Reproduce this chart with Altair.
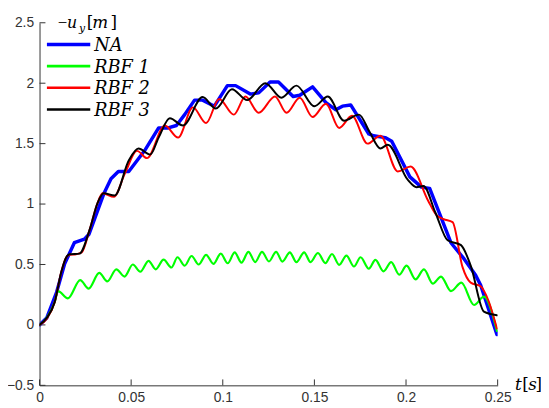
import altair as alt
import pandas as pd

# ---------------- data ----------------
series = ["NA", "RBF 1", "RBF 2", "RBF 3"]
colors = ["#0000ff", "#00ff00", "#ff0000", "#000000"]

na_t = [0, 0.0039, 0.0093, 0.0137, 0.019, 0.0245, 0.027, 0.0352, 0.039, 0.043, 0.0487,
        0.0577, 0.065, 0.0702, 0.0747, 0.0792, 0.0846, 0.089, 0.0954, 0.1025, 0.107,
        0.115, 0.1196, 0.1258, 0.1304, 0.1384, 0.142, 0.149, 0.1563, 0.1617, 0.1653,
        0.1698, 0.1797, 0.1823, 0.1886, 0.1922, 0.2021, 0.2084, 0.2129, 0.2245, 0.2317,
        0.238, 0.2407, 0.2496]
na_y = [0.0, 0.057, 0.27, 0.505, 0.68, 0.71, 0.75, 1.09, 1.21, 1.27, 1.27,
        1.45, 1.63, 1.63, 1.65, 1.74, 1.86, 1.86, 1.81, 1.98, 1.98,
        1.91, 1.92, 2.01, 2.01, 1.89, 1.90, 1.97, 1.84, 1.78, 1.81,
        1.82, 1.58, 1.565, 1.55, 1.52, 1.225, 1.14, 1.13, 0.68, 0.546,
        0.41, 0.33, -0.08]

rbf1_t = [0, 0.0039, 0.0083, 0.0101, 0.0155, 0.0222, 0.0268, 0.0326, 0.037, 0.0419,
          0.0464, 0.0509, 0.055, 0.0595, 0.0634, 0.0677, 0.072, 0.0753, 0.0792, 0.0830,
          0.0868, 0.0909, 0.0949, 0.0989, 0.1027, 0.1065, 0.1102, 0.1140, 0.1177, 0.1214,
          0.1252, 0.1291, 0.1325, 0.1366, 0.1402, 0.1444, 0.1479, 0.1519, 0.156, 0.1596,
          0.1635, 0.1675, 0.1716, 0.1752, 0.1797, 0.1833, 0.1877, 0.1919, 0.1963, 0.2003,
          0.2052, 0.2098, 0.2146, 0.2191, 0.2245, 0.2302, 0.2371, 0.2425, 0.2496]
rbf1_y = [0, 0.057, 0.19, 0.28, 0.22, 0.37, 0.30, 0.43, 0.36, 0.46,
          0.40, 0.50, 0.44, 0.53, 0.46, 0.54, 0.475, 0.56, 0.49, 0.57,
          0.50, 0.58, 0.505, 0.59, 0.51, 0.60, 0.515, 0.605, 0.52, 0.605,
          0.525, 0.605, 0.524, 0.60, 0.519, 0.60, 0.519, 0.595, 0.511, 0.587,
          0.497, 0.573, 0.483, 0.56, 0.465, 0.538, 0.443, 0.519, 0.416, 0.49,
          0.377, 0.459, 0.342, 0.40, 0.28, 0.35, 0.165, 0.234, -0.05]

rbf2_t = [0, 0.0039, 0.0083, 0.0119, 0.0146, 0.0164, 0.0200, 0.0230, 0.0272, 0.0317,
          0.0344, 0.0406, 0.0465, 0.0532, 0.0586, 0.0684, 0.0756, 0.0837, 0.0909, 0.098,
          0.106, 0.1124, 0.1196, 0.1285, 0.1348, 0.142, 0.149, 0.1563, 0.1635, 0.1705,
          0.1790, 0.186, 0.1955, 0.2025, 0.212, 0.2165, 0.2205, 0.2254, 0.2308, 0.2353,
          0.2407, 0.245, 0.2496]
rbf2_y = [0, 0.05, 0.19, 0.44, 0.56, 0.58, 0.585, 0.60, 0.78, 1.01,
          1.09, 1.06, 1.25, 1.44, 1.38, 1.65, 1.55, 1.80, 1.67, 1.87,
          1.74, 1.89, 1.755, 1.89, 1.755, 1.88, 1.72, 1.83, 1.63, 1.73,
          1.50, 1.565, 1.27, 1.31, 1.03, 0.91, 0.875, 0.85, 0.48, 0.35,
          0.32, 0.20, -0.03]

rbf3_t = [0, 0.0039, 0.0083, 0.0119, 0.0146, 0.0164, 0.0218, 0.0272, 0.0317, 0.0350,
          0.0410, 0.0487, 0.054, 0.0604, 0.065, 0.0711, 0.0783, 0.089, 0.0962, 0.1050,
          0.1133, 0.1232, 0.132, 0.1402, 0.15, 0.1573, 0.1662, 0.1743, 0.180, 0.186,
          0.1900, 0.201, 0.2057, 0.2095, 0.216, 0.2227, 0.2300, 0.2353, 0.2425, 0.2496]
rbf3_y = [0, 0.057, 0.19, 0.44, 0.56, 0.585, 0.59, 0.78, 1.01, 1.09,
          1.07, 1.36, 1.46, 1.41, 1.55, 1.71, 1.65, 1.885, 1.79, 1.95,
          1.86, 2.00, 1.88, 1.98, 1.81, 1.89, 1.69, 1.74, 1.60, 1.46,
          1.49, 1.20, 1.14, 1.15, 0.93, 0.70, 0.66, 0.49, 0.11, 0.08]

tick_x = [0, 0.05, 0.1, 0.15, 0.2, 0.25]
tick_y = [-0.5, 0, 0.5, 1, 1.5, 2, 2.5]

# ---------------- layout / style ----------------
W, H = 465, 368
AXC = "#333333"
SERIF = "DejaVu Serif"

xs = alt.Scale(domain=[0, 0.25], nice=False, zero=False)
ys = alt.Scale(domain=[-0.5, 2.5], nice=False, zero=False)

X_AX = alt.Axis(values=tick_x, format="~g", title=None, grid=False, ticks=False,
                tickSize=0, labelPadding=5, labelFont="Liberation Sans",
                labelFontSize=14, labelColor=AXC, domainColor=AXC,
                labelFlush=False, labelOverlap=False)
Y_AX = alt.Axis(values=tick_y, format="~g", title=None, grid=False, ticks=False,
                tickSize=0, labelPadding=6, labelFont="Liberation Sans",
                labelFontSize=14, labelColor=AXC, domainColor=AXC,
                labelFlush=False, labelOverlap=False)


def line(t, y, color, width, interp):
    df = pd.DataFrame({"t": t, "y": y})
    return alt.Chart(df).mark_line(color=color, strokeWidth=width,
                                   interpolate=interp, clip=True,
                                   strokeJoin="round", strokeCap="round").encode(
        x=alt.X("t:Q", scale=xs, axis=X_AX),
        y=alt.Y("y:Q", scale=ys, axis=Y_AX))


layers = []
# inward ticks
layers.append(alt.Chart(pd.DataFrame({"t": tick_x})).mark_rule(color=AXC, strokeWidth=1).encode(
    x=alt.X("t:Q", scale=xs, axis=X_AX), y=alt.value(H), y2=alt.value(H - 6)))
layers.append(alt.Chart(pd.DataFrame({"y": tick_y})).mark_rule(color=AXC, strokeWidth=1).encode(
    y=alt.Y("y:Q", scale=ys, axis=Y_AX), x=alt.value(0), x2=alt.value(6)))

layers.append(line(na_t, na_y, colors[0], 3.5, "linear"))
layers.append(line(rbf1_t, rbf1_y, colors[1], 2.2, "monotone"))
layers.append(line(rbf2_t, rbf2_y, colors[2], 2.0, "monotone"))
layers.append(line(rbf3_t, rbf3_y, colors[3], 2.0, "monotone"))

# legend
leg_w = [3.5, 2.6, 2.4, 2.4]
leg_y = [22, 44, 66, 88]
for name, col, lw, ly in zip(series, colors, leg_w, leg_y):
    layers.append(alt.Chart(pd.DataFrame({"a": [0]})).mark_rule(color=col, strokeWidth=lw).encode(
        x=alt.value(7.5), x2=alt.value(51.5), y=alt.value(ly)))
    layers.append(alt.Chart(pd.DataFrame({"a": [0]})).mark_text(
        text=name, font=SERIF, fontStyle="italic", fontSize=18, align="left",
        baseline="alphabetic", color="#000").encode(
        x=alt.value(55.5), y=alt.value(ly + 6.5)))


def label(txt, x, y, size=17, italic=True, font=SERIF):
    return alt.Chart(pd.DataFrame({"a": [0]})).mark_text(
        text=txt, font=font, fontStyle="italic" if italic else "normal",
        fontSize=size, align="left", baseline="alphabetic", color="#000").encode(
        x=alt.value(x), y=alt.value(y))


# y-axis label  -u_y[m]
layers += [label("−", 18.5, 5.5, italic=False, font="Liberation Serif"),
           label("u", 28, 5.5, size=16), label("y", 40, 9.5, size=11),
           label("[", 48, 5.5, italic=False), label("m", 53.5, 5.5),
           label("]", 72, 5.5, italic=False)]
# x-axis label  t[s]
layers += [label("t", 482.5, 373), label("[", 490, 373, italic=False),
           label("s", 496, 373), label("]", 503.5, 373, italic=False)]

chart = alt.layer(*layers).properties(
    width=W, height=H, autosize="none",
    padding={"left": 32, "top": 12, "right": 44, "bottom": 20},
    background="white",
).configure_view(stroke=None)

chart.save("out.html", embed_options={"renderer": "svg", "actions": False})
